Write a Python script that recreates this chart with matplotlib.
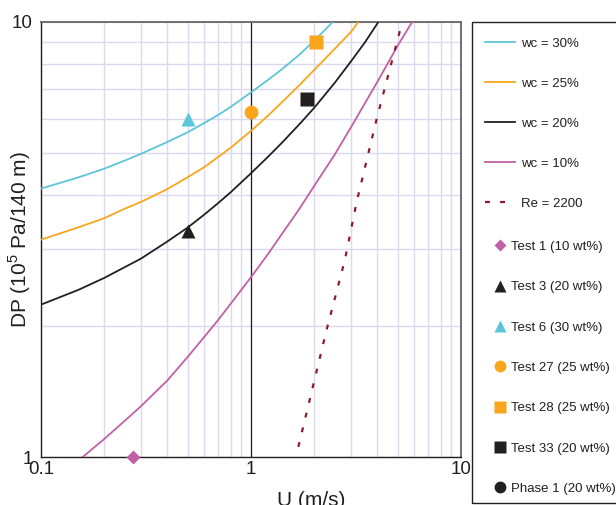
import matplotlib
matplotlib.use('Agg')
import matplotlib.pyplot as plt
import matplotlib.ticker as mticker
from matplotlib.patches import Rectangle

plt.rcParams['font.family'] = ['Liberation Sans', 'DejaVu Sans']
plt.rcParams['mathtext.fontset'] = 'custom'
plt.rcParams['mathtext.rm'] = 'Liberation Sans'

# ---- data (U in m/s, DP in 1e5 Pa / 140 m) ----
u_wc30 = [0.1, 0.15, 0.2, 0.25, 0.3, 0.4, 0.5, 0.6, 0.7, 0.8, 1.0, 1.2, 1.4, 1.7, 2.0, 2.45]
dp_wc30 = [4.14, 4.39, 4.60, 4.80, 4.98, 5.30, 5.58, 5.86, 6.12, 6.38, 6.89, 7.35, 7.78, 8.41, 9.06, 10.0]

u_wc25 = [0.1, 0.15, 0.2, 0.25, 0.3, 0.4, 0.5, 0.6, 0.7, 0.8, 1.0, 1.2, 1.4, 1.7, 2.0, 2.5, 3.0, 3.24]
dp_wc25 = [3.16, 3.37, 3.54, 3.72, 3.86, 4.13, 4.40, 4.64, 4.90, 5.14, 5.62, 6.08, 6.53, 7.16, 7.76, 8.67, 9.50, 10.0]

u_wc20 = [0.1, 0.15, 0.2, 0.25, 0.3, 0.4, 0.5, 0.6, 0.7, 0.8, 1.0, 1.2, 1.4, 1.7, 2.0, 2.5, 3.0, 3.5, 4.04]
dp_wc20 = [2.24, 2.42, 2.58, 2.73, 2.86, 3.13, 3.37, 3.61, 3.84, 4.06, 4.49, 4.89, 5.27, 5.82, 6.35, 7.24, 8.13, 9.0, 10.0]

u_wc10 = [0.158, 0.2, 0.25, 0.3, 0.4, 0.5, 0.6, 0.7, 0.8, 1.0, 1.2, 1.4, 1.7, 2.0, 2.5, 3.0, 4.0, 5.0, 5.85]
dp_wc10 = [1.0, 1.10, 1.21, 1.31, 1.50, 1.70, 1.89, 2.07, 2.25, 2.59, 2.92, 3.25, 3.72, 4.20, 4.95, 5.74, 7.29, 8.83, 10.0]

u_re = [1.68, 2.29, 2.58, 2.80, 3.19, 3.97, 5.25]
dp_re = [1.055, 1.96, 2.44, 2.84, 3.87, 6.0, 10.0]

test1 = (0.273, 1.0)
test3 = (0.5, 3.3)
test6 = (0.5, 6.0)
test27 = (1.0, 6.2)
test28 = (2.05, 9.0)
test33 = (1.85, 6.64)

c_cyan = '#5cc5d8'
c_orange = '#f9a61c'
c_black = '#231f20'
c_mag = '#c260a6'
c_red = '#8e1b2a'

fig = plt.figure(figsize=(6.16, 5.05), dpi=100)
ax = fig.add_axes([41/616, 48/505, 420/616, 435/505])

ax.set_xscale('log')
ax.set_yscale('log')
ax.set_xlim(0.1, 10)
ax.set_ylim(1, 10)

# grid
ax.xaxis.set_minor_locator(mticker.LogLocator(base=10, subs=range(2, 10)))
ax.yaxis.set_minor_locator(mticker.LogLocator(base=10, subs=range(2, 10)))
ax.xaxis.set_minor_formatter(mticker.NullFormatter())
ax.yaxis.set_minor_formatter(mticker.NullFormatter())
ax.grid(True, which='both', color='#dcd9ec', lw=1.0, zorder=0)
ax.set_axisbelow(True)
ax.axvline(1, color=c_black, lw=0.9, zorder=1)

# curves
lw = 1.3
l1, = ax.plot(u_wc30, dp_wc30, color=c_cyan, lw=lw, label='wc = 30%', zorder=3)
l2, = ax.plot(u_wc25, dp_wc25, color=c_orange, lw=lw, label='wc = 25%', zorder=3)
l3, = ax.plot(u_wc20, dp_wc20, color=c_black, lw=lw, label='wc = 20%', zorder=3)
l4, = ax.plot(u_wc10, dp_wc10, color=c_mag, lw=lw, label='wc = 10%', zorder=3)
l5, = ax.plot(u_re, dp_re, color=c_red, lw=1.6, ls=(0, (2.2, 4.6)), label='Re = 2200', zorder=3)

# test points
m1, = ax.plot(*test1, 'D', color=c_mag, ms=7, mec='none', label='Test 1 (10 wt%)', clip_on=False, zorder=5)
m2, = ax.plot(*test3, '^', color=c_black, ms=9.5, mec='none', label='Test 3 (20 wt%)', zorder=5)
m3, = ax.plot(*test6, '^', color=c_cyan, ms=9.5, mec='none', label='Test 6 (30 wt%)', zorder=5)
m4, = ax.plot(*test27, 'o', color=c_orange, ms=10, mec='none', label='Test 27 (25 wt%)', zorder=5)
m5, = ax.plot(*test28, 's', color=c_orange, ms=10.5, mec='none', label='Test 28 (25 wt%)', zorder=5)
m6, = ax.plot(*test33, 's', color=c_black, ms=10.5, mec='none', label='Test 33 (20 wt%)', zorder=5)
m7, = ax.plot([], [], 'o', color=c_black, ms=10, mec='none', label='Phase 1 (20 wt%)')

# ticks
ax.set_xticks([0.1, 1, 10])
ax.set_xticklabels(['0.1', '1', '10'])
ax.set_yticks([1, 10])
ax.set_yticklabels(['1', '10'])
ax.tick_params(which='both', length=0)
ax.tick_params(axis='x', labelsize=13.5, pad=3, colors=c_black)
ax.tick_params(axis='y', labelsize=13.5, pad=6, colors=c_black)

# spines
for s in ['left', 'bottom']:
    ax.spines[s].set_color(c_black)
    ax.spines[s].set_linewidth(1.0)
for s in ['top', 'right']:
    ax.spines[s].set_color('#707070')
    ax.spines[s].set_linewidth(1.4)

ax.set_xlabel('U (m/s)', fontsize=15, color=c_black)
ax.xaxis.set_label_coords((311 - 41) / 420, -34 / 435)
ax.set_ylabel('DP (10$^5$ Pa/140 m)', fontsize=15, color=c_black)
ax.yaxis.set_label_coords((33 - 41) / 420, 0.5)

# legends: lines and markers use different handle widths
leg1 = ax.legend(handles=[l1, l2, l3, l4, l5], loc='upper left',
                 bbox_to_anchor=(478/616, 1 - 31/505), bbox_transform=fig.transFigure,
                 frameon=False, fontsize=9.5, handlelength=2.3, handletextpad=0.45,
                 labelspacing=2.1, borderpad=0)
ax.add_artist(leg1)
leg2 = ax.legend(handles=[m1, m2, m3, m4, m5, m6, m7], loc='upper left',
                 bbox_to_anchor=(486/616, 1 - 234/505), bbox_transform=fig.transFigure,
                 frameon=False, fontsize=9.5, handlelength=1.06, handletextpad=0.3,
                 labelspacing=2.13, borderpad=0, markerscale=0.85)
for leg in (leg1, leg2):
    for t in leg.get_texts():
        t.set_color(c_black)

fig.add_artist(Rectangle((472/616, 2/505), 160/616, 481/505, transform=fig.transFigure,
                         fill=False, ec=c_black, lw=1.0, clip_on=False))

fig.savefig('out.png', dpi=100)
